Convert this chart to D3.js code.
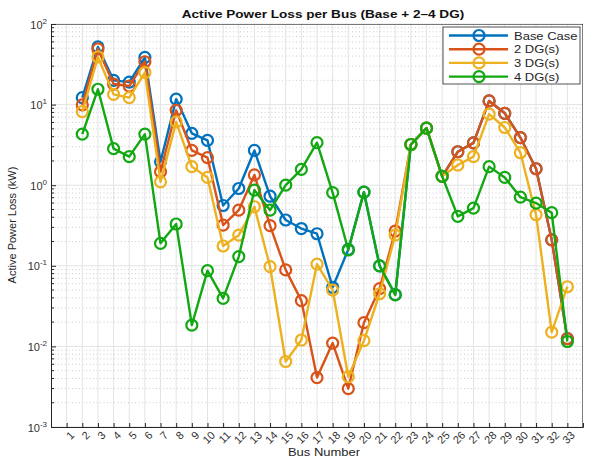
<!DOCTYPE html>
<html><head><meta charset="utf-8">
<script src="https://cdn.jsdelivr.net/npm/d3@7"></script>
<style>body{margin:0;background:#fff} text{font-family:"Liberation Sans",Arial,Helvetica,sans-serif}</style>
</head><body><svg id="c" width="595" height="457"></svg>
<script>
// Tick labels (bus numbers shown on the x axis)
const tickLabels = [1,2,3,4,5,6,7,8,9,10,11,12,13,14,15,16,17,18,19,20,21,22,23,24,25,26,27,28,29,30,31,32,33];
// Buses that carry data
const buses = [2,3,4,5,6,7,8,9,10,11,12,13,14,15,16,17,18,19,20,21,22,23,24,25,26,27,28,29,30,31,32,33];
const baseCase = [12.2,52,20,19,38.5,1.95,11.7,4.4,3.6,0.56,0.91,2.7,0.73,0.37,0.29,0.25,0.054,0.16,0.82,0.1,0.044,3.2,5.1,1.29,2.6,3.35,11.1,7.8,3.9,1.6,0.21,0.0125];
const dg2 = [9.9,49,18,17,34,1.47,8.5,2.7,2.2,0.32,0.49,1.34,0.315,0.089,0.037,0.0041,0.011,0.003,0.0197,0.052,0.27,3.2,5.1,1.29,2.6,3.35,11.1,7.8,3.9,1.6,0.21,0.0125];
const dg3 = [8.2,39,13.4,12.2,25,1.1,6.1,1.7,1.25,0.176,0.24,0.54,0.0975,0.0065,0.012,0.105,0.05,0.0042,0.0118,0.045,0.24,3.2,5.1,1.29,1.78,2.26,7.6,5.2,2.53,0.43,0.015,0.055];
const dg4 = [4.3,15.5,2.84,2.26,4.3,0.19,0.33,0.0184,0.087,0.0394,0.13,0.87,0.49,1.0,1.57,3.37,0.81,0.157,0.82,0.1,0.0435,3.2,5.1,1.29,0.41,0.52,1.7,1.25,0.71,0.6,0.456,0.0115];
const seriesNames = ["Base Case","2 DG(s)","3 DG(s)","4 DG(s)"];
const seriesColors = ["#0072BD","#D95319","#EDB120","#12a812"];
const yTickExps = [-3,-2,-1,0,1,2];

const svg = d3.select("#c");
const L=51, R=583, T=24, B=427;
const x = d3.scaleLinear().domain([0,34]).range([L,R]);
const y = d3.scaleLog().domain([1e-3,1e2]).range([B,T]);
const SX = 1.18; // horizontal stretch of the original figure's text
function stretch(sel){ sel.each(function(){ const w=this.getComputedTextLength(); d3.select(this).attr("textLength",w*SX).attr("lengthAdjust","spacingAndGlyphs"); }); return sel; }

const g = svg.append("g");
const minors=[];
for (let e=-3;e<2;e++) for (let m=2;m<=9;m++) minors.push(m*Math.pow(10,e));
g.selectAll(".mg").data(minors).join("line")
  .attr("x1",L).attr("x2",R).attr("y1",d=>y(d)).attr("y2",d=>y(d))
  .attr("stroke","#cccccc").attr("stroke-width",1).attr("stroke-dasharray","1,2.5");
g.selectAll(".Mg").data(yTickExps).join("line")
  .attr("x1",L).attr("x2",R).attr("y1",d=>y(Math.pow(10,d))).attr("y2",d=>y(Math.pow(10,d)))
  .attr("stroke","#e3e3e3").attr("stroke-width",1);
g.selectAll(".vg").data(tickLabels).join("line")
  .attr("x1",d=>x(d)).attr("x2",d=>x(d)).attr("y1",T).attr("y2",B)
  .attr("stroke","#e3e3e3").attr("stroke-width",1);

svg.append("line").attr("x1",L).attr("x2",R).attr("y1",T+0.5).attr("y2",T+0.5).attr("stroke","#262626").attr("stroke-width",0.6);
svg.append("line").attr("x1",R-0.5).attr("x2",R-0.5).attr("y1",T).attr("y2",B).attr("stroke","#262626").attr("stroke-width",0.6);

const xAxis = d3.axisBottom(x).tickValues(tickLabels).tickSize(-4).tickFormat(d3.format("d"));
const xg = svg.append("g").attr("transform",`translate(0,${B})`).call(xAxis);
xg.select(".domain").attr("stroke","#262626");
xg.selectAll(".tick line").attr("stroke","#262626");
xg.selectAll(".tick text").attr("fill","#333").attr("font-size",11)
  .attr("text-anchor","end").attr("dy",null).attr("y",null)
  .attr("dominant-baseline","central")
  .attr("transform","translate(5,6) rotate(-45)");

const yAxis = d3.axisLeft(y).tickValues(yTickExps.map(e=>Math.pow(10,e))).tickSize(-5).tickFormat("");
const yg = svg.append("g").attr("transform",`translate(${L},0)`).call(yAxis);
yg.select(".domain").attr("stroke","#262626");
yg.selectAll(".tick line").attr("stroke","#262626");
yg.selectAll(".mt").data(minors).join("line").attr("x1",0).attr("x2",3).attr("y1",d=>y(d)).attr("y2",d=>y(d)).attr("stroke","#262626");
yg.selectAll(".tick").each(function(d){
  const e = Math.round(Math.log10(d));
  const t = d3.select(this).append("text").attr("x",-4).attr("y",4).attr("text-anchor","end").attr("fill","#333").attr("font-size",11);
  t.append("tspan").text("10");
  t.append("tspan").attr("dy",-5).attr("font-size",8).text(String(e));
});

const data = [baseCase,dg2,dg3,dg4];
const line = d3.line().x(d=>x(d[0])).y(d=>y(d[1]));
data.forEach((vals,i)=>{
  const pts = buses.map((b,j)=>[b,vals[j]]);
  svg.append("path").datum(pts).attr("d",line).attr("fill","none")
    .attr("stroke",seriesColors[i]).attr("stroke-width",2.4).attr("stroke-linejoin","round");
  svg.append("g").selectAll("circle").data(pts).join("circle")
    .attr("cx",d=>x(d[0])).attr("cy",d=>y(d[1])).attr("r",5.5)
    .attr("fill","none").attr("stroke",seriesColors[i]).attr("stroke-width",2.2);
});

stretch(svg.append("text").attr("x",323).attr("y",18).attr("text-anchor","middle").attr("font-size",11.5).attr("font-weight","bold").attr("fill","#111")
  .text("Active Power Loss per Bus (Base + 2–4 DG)"));
svg.append("text").attr("transform","translate(16,225) rotate(-90)").attr("text-anchor","middle").attr("font-size",11).attr("fill","#262626")
  .text("Active Power Loss (kW)");
stretch(svg.append("text").attr("x",324).attr("y",456).attr("text-anchor","middle").attr("font-size",11).attr("fill","#262626")
  .text("Bus Number"));

const lg = svg.append("g").attr("transform","translate(443,27)");
lg.append("rect").attr("width",137).attr("height",57).attr("fill","#fff").attr("stroke","#262626").attr("stroke-width",0.8);
seriesNames.forEach((n,i)=>{
  const yy = 8.5 + i*13.7;
  lg.append("line").attr("x1",6).attr("x2",65).attr("y1",yy).attr("y2",yy).attr("stroke",seriesColors[i]).attr("stroke-width",2.4);
  lg.append("circle").attr("cx",36).attr("cy",yy).attr("r",5.5).attr("fill","none").attr("stroke",seriesColors[i]).attr("stroke-width",2.2);
  stretch(lg.append("text").attr("x",71).attr("y",yy+4).attr("font-size",11).attr("fill","#262626").text(n));
});
</script></body></html>
